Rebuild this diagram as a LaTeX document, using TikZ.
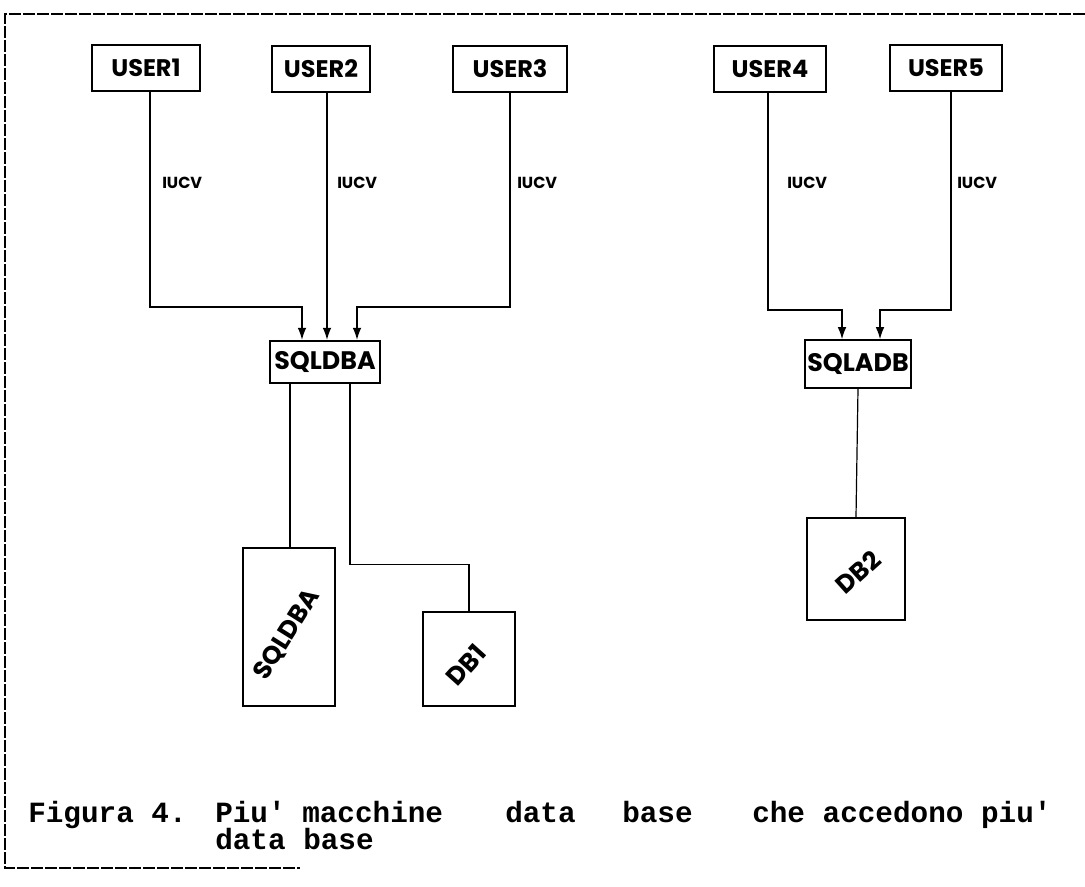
\documentclass[tikz,border=0pt]{standalone}
\usepackage{fontspec}
\usetikzlibrary{calc,arrows.meta}
\newfontfamily\handfont{Poppins}
\newfontfamily\capfont{Liberation Mono}
\begin{document}
\begin{tikzpicture}[x=0.75pt,y=-0.75pt,
  box/.style={draw,line width=1.3pt,inner sep=0pt,font=\handfont\bfseries\fontsize{18}{18}\selectfont},
  conn/.style={line width=0.9pt},
  arr/.style={conn,-{Latex[length=9pt,width=6.5pt]}},
  lbl/.style={anchor=west,inner sep=0pt,font=\handfont\bfseries\fontsize{12}{12}\selectfont},
  rot/.style={inner sep=0pt,font=\handfont\bfseries\fontsize{19}{19}\selectfont},
  capt/.style={anchor=base west,inner sep=0pt,font=\capfont\bfseries\fontsize{22}{22}\selectfont},
  frame/.style={line width=2pt,dash pattern=on 9pt off 1.5pt}]
\useasboundingbox (0,0) rectangle (1085,887);
% frame
\draw[frame] (1085,14) -- (5,14) -- (5,868) -- (300,868);
% users
\node[box,minimum width=81pt,minimum height=34pt] (u1) at (146,68) {USER1};
\node[box,minimum width=73pt,minimum height=35pt] (u2) at (321,69) {USER2};
\node[box,minimum width=85pt,minimum height=35pt] (u3) at (510,69) {USER3};
\node[box,minimum width=84pt,minimum height=35pt] (u4) at (770,69) {USER4};
\node[box,minimum width=84pt,minimum height=34pt] (u5) at (946,68) {USER5};
% machines
\node[box,minimum width=82pt,minimum height=32pt,font=\handfont\bfseries\fontsize{19}{19}\selectfont] (sa) at (325,362) {SQLDBA};
\node[box,minimum width=80pt,minimum height=36pt,font=\handfont\bfseries\fontsize{19}{19}\selectfont] (qa) at (858,364) {SQLADB};
% data bases
\node[box,minimum width=69pt,minimum height=118pt] (dsq) at (289,627) {};
\node[rot,rotate=58] (tsq) at (287,635) {SQLDBA};
\node[box,minimum width=69pt,minimum height=70pt] (db1) at (469,659) {};
\node[rot,rotate=48] (tdb1) at (466,665) {DB1};
\node[box,minimum width=73pt,minimum height=77pt] (db2) at (856,569) {};
\node[rot,rotate=42] (tdb2) at (858,572) {DB2};
% junctions
\coordinate (k1) at (150,307);
\coordinate (k3) at (510,307);
\coordinate (k4) at (768,310);
\coordinate (k5) at (951,310);
\coordinate (t1) at ($(sa.north)+(-23,0)$);
\coordinate (t2) at ($(sa.north)+(2,0)$);
\coordinate (t3) at ($(sa.north)+(32,0)$);
\coordinate (t4) at ($(qa.north)+(-16,0)$);
\coordinate (t5) at ($(qa.north)+(22,0)$);
\coordinate (b1) at ($(sa.south)+(-35,0)$);
\coordinate (b2) at ($(sa.south)+(25,0)$);
% connectors
\draw[arr] (u1.south -| k1) -- (k1) -| (t1);
\draw[arr] (u2.south -| t2) -- (t2);
\draw[arr] (u3.south -| k3) -- (k3) -| (t3);
\draw[arr] (u4.south -| k4) -- (k4) -| (t4);
\draw[arr] (u5.south -| k5) -- (k5) -| (t5);
\draw[conn] (b1) -- (dsq.north -| b1);
\draw[conn] (b2) |- ($(db1.north)+(0,-47)$) -- (db1.north);
\draw[conn] (qa.south) -- (db2.north);
% labels
\node[lbl] (l1) at (162,183) {IUCV};
\node[lbl] (l2) at (337,183) {IUCV};
\node[lbl] (l3) at (517,183) {IUCV};
\node[lbl] (l4) at (787,183) {IUCV};
\node[lbl] (l5) at (957,183) {IUCV};
% caption
\node[capt] (c1) at (28,822) {Figura 4.};
\node[capt] (c2) at (215,822) {Piu'};
\node[capt] (c3) at (302,822) {macchine};
\node[capt] (c4) at (505,822) {data};
\node[capt] (c5) at (622,822) {base};
\node[capt] (c6) at (752,822) {che accedono piu'};
\node[capt] (c7) at (215,849) {data base};
\end{tikzpicture}
\end{document}
